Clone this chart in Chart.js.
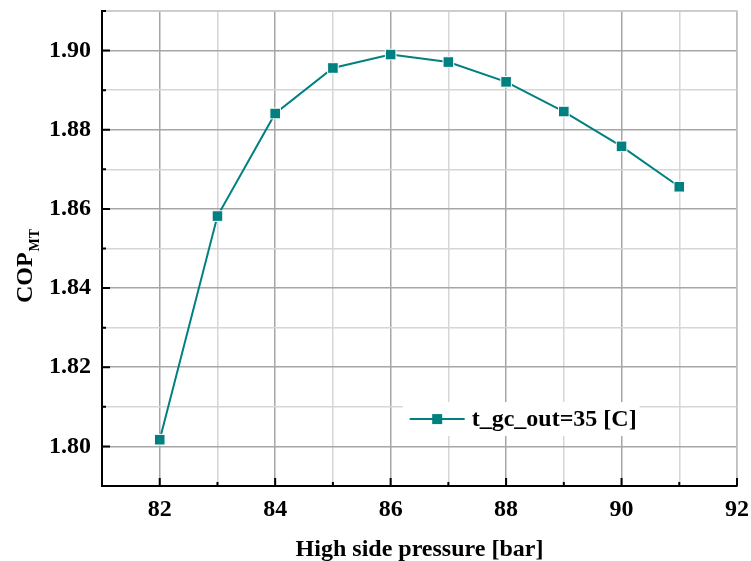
<!DOCTYPE html>
<html>
<head>
<meta charset="utf-8">
<script src="https://cdn.jsdelivr.net/npm/chart.js@4.4.1/dist/chart.umd.min.js"></script>
<style>
  html, body { margin: 0; padding: 0; background: #fff; }
  #wrap { width: 751px; height: 561px; }
</style>
</head>
<body>
<div id="wrap"><canvas id="cop-chart" width="751" height="561"></canvas></div>
<script>
// data
const pressure = [82, 83, 84, 85, 86, 87, 88, 89, 90, 91];
const copMT = [1.8017, 1.8582, 1.8841, 1.8956, 1.8990, 1.8971, 1.8921, 1.8846, 1.8758, 1.8656];
const seriesName = "t_gc_out=35 [C]";
const xTitle = "High side pressure [bar]";
const yTitleMain = "COP";
const yTitleSub = "MT";

const teal = "#008080";
const serif = "'Liberation Serif', 'Times New Roman', serif";

function isMajorX(v) { return Math.round(v) % 2 === 0; }
function isMajorY(v) { return Math.round(v * 100) % 2 === 0; }

// inner ticks, frame, y title with subscript, legend inside the plot
const extras = {
    id: "extras",
    afterDraw(chart) {
        const ctx = chart.ctx;
        const area = chart.chartArea;
        const xs = chart.scales.x;
        const ys = chart.scales.y;

        ctx.save();
        // top/right frame
        ctx.strokeStyle = "#c8c8c8";
        ctx.lineWidth = 1.5;
        ctx.beginPath();
        ctx.moveTo(area.left, area.top);
        ctx.lineTo(area.right, area.top);
        ctx.lineTo(area.right, area.bottom);
        ctx.stroke();

        // inward ticks
        ctx.strokeStyle = "#000";
        ctx.lineWidth = 2;
        ctx.beginPath();
        for (const t of xs.ticks) {
            const px = xs.getPixelForValue(t.value);
            const len = isMajorX(t.value) ? 8 : 4;
            ctx.moveTo(px, area.bottom);
            ctx.lineTo(px, area.bottom - len);
        }
        for (const t of ys.ticks) {
            const py = ys.getPixelForValue(t.value);
            const len = isMajorY(t.value) ? 8 : 4;
            ctx.moveTo(area.left, py);
            ctx.lineTo(area.left + len, py);
        }
        ctx.stroke();

        // y title: COP with subscript MT
        ctx.fillStyle = "#000";
        ctx.translate(26, 266);
        ctx.rotate(-Math.PI / 2);
        ctx.font = "bold 24px " + serif;
        ctx.textBaseline = "middle";
        ctx.textAlign = "left";
        const w = ctx.measureText(yTitleMain).width;
        ctx.font = "bold 14px " + serif;
        const ws = ctx.measureText(yTitleSub).width;
        const total = w + ws + 1;
        ctx.font = "bold 24px " + serif;
        ctx.fillText(yTitleMain, -total / 2, 0);
        ctx.font = "bold 14px " + serif;
        ctx.fillText(yTitleSub, -total / 2 + w + 1, 9);
        ctx.restore();

        // legend
        ctx.save();
        const lx = xs.getPixelForValue(86.33);
        const ly = ys.getPixelForValue(1.8069);
        ctx.font = "bold 24px " + serif;
        const tw = ctx.measureText(seriesName).width;
        ctx.fillStyle = "#fff";
        ctx.fillRect(lx - 7, ly - 17, 72 + tw, 34);
        ctx.strokeStyle = teal;
        ctx.lineWidth = 2;
        ctx.beginPath();
        ctx.moveTo(lx, ly);
        ctx.lineTo(lx + 55, ly);
        ctx.stroke();
        ctx.fillStyle = teal;
        ctx.fillRect(lx + 27.5 - 5, ly - 5, 10, 10);
        ctx.fillStyle = "#000";
        ctx.textBaseline = "middle";
        ctx.textAlign = "left";
        ctx.fillText(seriesName, lx + 62, ly + 1);
        ctx.restore();
    }
};

new Chart(document.getElementById("cop-chart"), {
    type: "line",
    data: {
        datasets: [{
            label: seriesName,
            data: pressure.map((p, i) => ({ x: p, y: copMT[i] })),
            borderColor: teal,
            borderWidth: 2,
            tension: 0,
            fill: false,
            pointStyle: "rect",
            pointRadius: 7.5,
            pointBackgroundColor: teal,
            pointBorderColor: "#fff",
            pointBorderWidth: 1
        }]
    },
    options: {
        responsive: false,
        animation: false,
        layout: { padding: { left: 0, top: 11, right: 14, bottom: 0 } },
        plugins: {
            legend: { display: false },
            tooltip: { enabled: false }
        },
        scales: {
            x: {
                type: "linear",
                min: 81,
                max: 92,
                afterFit: (s) => { s.height = 75; s.paddingLeft = 0; s.paddingRight = 0; },
                ticks: {
                    stepSize: 1,
                    padding: 9,
                    color: "#000",
                    font: { family: serif, size: 24, weight: "bold" },
                    callback: (v) => isMajorX(v) && v !== 81 ? String(v) : ""
                },
                grid: {
                    drawTicks: false,
                    color: (c) => isMajorX(c.tick.value) ? "#a6a6a6" : "#d6d6d6",
                    lineWidth: 1.5
                },
                border: { color: "#000", width: 2 },
                title: {
                    display: true,
                    text: xTitle,
                    color: "#000",
                    font: { family: serif, size: 24, weight: "bold" },
                    padding: { top: 0, bottom: -3 }
                }
            },
            y: {
                min: 1.79,
                max: 1.91,
                afterFit: (s) => { s.width = 102; s.paddingTop = 0; s.paddingBottom = 0; },
                ticks: {
                    stepSize: 0.01,
                    padding: 11,
                    color: "#000",
                    font: { family: serif, size: 24, weight: "bold" },
                    callback: (v) => isMajorY(v) && v > 1.795 && v < 1.905 ? v.toFixed(2) : ""
                },
                grid: {
                    drawTicks: false,
                    color: (c) => isMajorY(c.tick.value) ? "#a6a6a6" : "#d6d6d6",
                    lineWidth: 1.5
                },
                border: { color: "#000", width: 2 }
            }
        }
    },
    plugins: [extras]
});
</script>
</body>
</html>
